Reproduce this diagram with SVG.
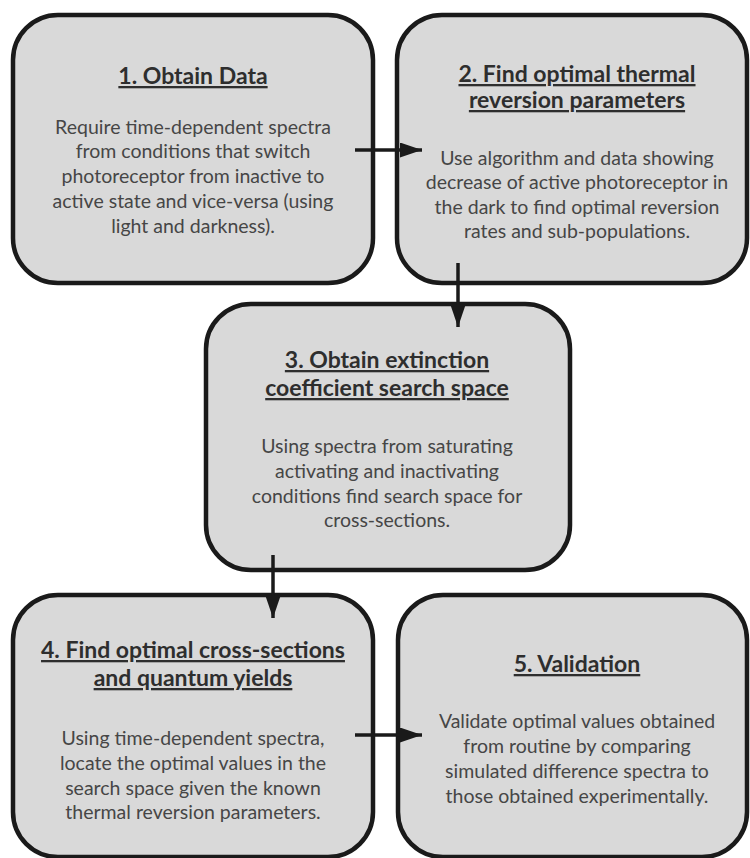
<svg xmlns="http://www.w3.org/2000/svg" width="750" height="858" viewBox="0 0 750 858">
<style>
.box{fill:#d9d9d9;stroke:#1a1a1a;stroke-width:4.5}
.t{font-family:Lato,"Liberation Sans",sans-serif;font-weight:bold;font-size:23px;fill:#2e2e2e;text-anchor:middle;text-decoration:underline}
.b{font-family:Lato,"Liberation Sans",sans-serif;font-size:19.5px;fill:#464646;text-anchor:middle}
.c{stroke:#1a1a1a;stroke-width:3.5;fill:none}
</style>
<defs>
<marker id="ah" markerUnits="userSpaceOnUse" markerWidth="24" markerHeight="16" refX="22" refY="7.5" orient="auto">
<path d="M0,0 L22,7.5 L0,15 Z" fill="#1a1a1a"/>
</marker>
</defs>
<rect width="750" height="858" fill="#fff"/>
<g id="node1">
<rect class="box" x="13" y="15" width="360" height="268" rx="45"/>
<text class="t" x="193" y="84">1. Obtain Data</text>
<text class="b" x="193" y="134">Require time-dependent spectra</text>
<text class="b" x="193" y="158">from conditions that switch</text>
<text class="b" x="193" y="183">photoreceptor from inactive to</text>
<text class="b" x="193" y="208">active state and vice-versa (using</text>
<text class="b" x="193" y="233">light and darkness).</text>
</g>
<g id="node2">
<rect class="box" x="397" y="15" width="350" height="268" rx="45"/>
<text class="t" x="577" y="82">2. Find optimal thermal</text>
<text class="t" x="577" y="108">reversion parameters</text>
<text class="b" x="577" y="165">Use algorithm and data showing</text>
<text class="b" x="577" y="189">decrease of active photoreceptor in</text>
<text class="b" x="577" y="214">the dark to find optimal reversion</text>
<text class="b" x="577" y="238">rates and sub-populations.</text>
</g>
<g id="node3">
<rect class="box" x="206" y="304" width="364" height="266" rx="45"/>
<text class="t" x="387" y="368">3. Obtain extinction</text>
<text class="t" x="387" y="396">coefficient search space</text>
<text class="b" x="387" y="453">Using spectra from saturating</text>
<text class="b" x="387" y="478">activating and inactivating</text>
<text class="b" x="387" y="503">conditions find search space for</text>
<text class="b" x="387" y="527">cross-sections.</text>
</g>
<g id="node4">
<rect class="box" x="13" y="595" width="360" height="262" rx="45"/>
<text class="t" x="193" y="658">4. Find optimal cross-sections</text>
<text class="t" x="193" y="686">and quantum yields</text>
<text class="b" x="193" y="745">Using time-dependent spectra,</text>
<text class="b" x="193" y="770">locate the optimal values in the</text>
<text class="b" x="193" y="795">search space given the known</text>
<text class="b" x="193" y="819">thermal reversion parameters.</text>
</g>
<g id="node5">
<rect class="box" x="398" y="595" width="349" height="262" rx="45"/>
<text class="t" x="577" y="672">5. Validation</text>
<text class="b" x="577" y="728">Validate optimal values obtained</text>
<text class="b" x="577" y="753">from routine by comparing</text>
<text class="b" x="577" y="778">simulated difference spectra to</text>
<text class="b" x="577" y="803">those obtained experimentally.</text>
</g>
<g id="connectors">
<line class="c" x1="355" y1="150" x2="422" y2="150" marker-end="url(#ah)"/>
<line class="c" x1="458" y1="263" x2="458" y2="327" marker-end="url(#ah)"/>
<line class="c" x1="273" y1="555" x2="273" y2="618" marker-end="url(#ah)"/>
<line class="c" x1="355" y1="735" x2="422" y2="735" marker-end="url(#ah)"/>
</g>
</svg>
